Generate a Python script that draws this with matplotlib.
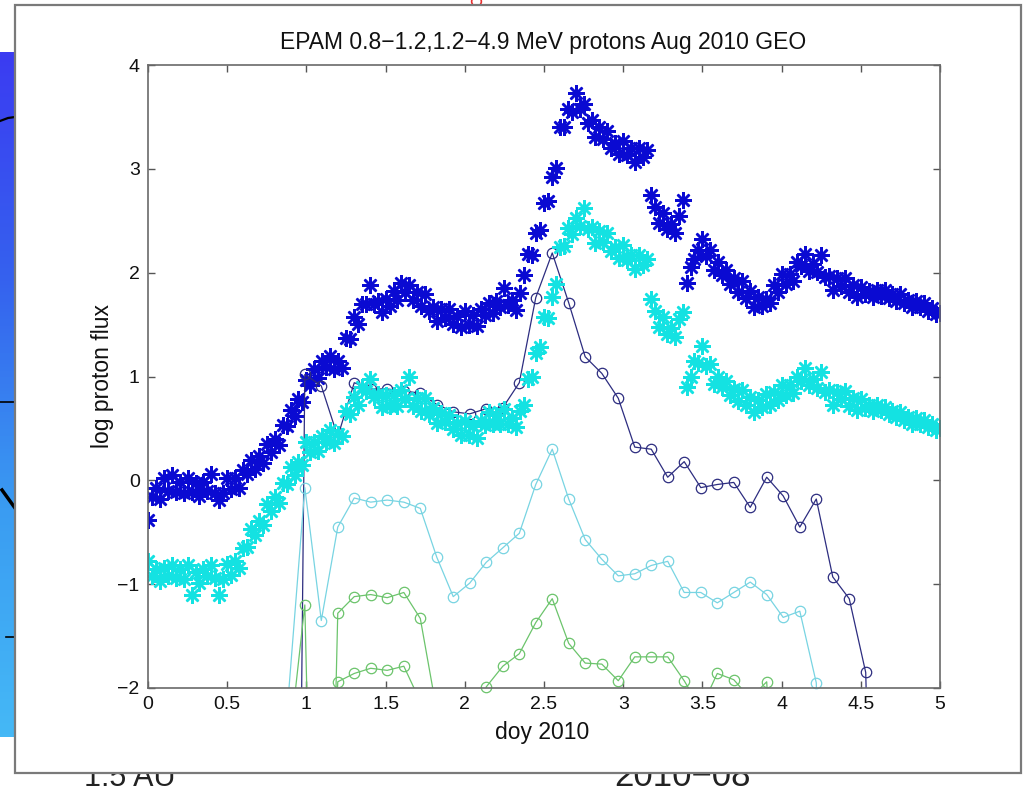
import numpy as np
import matplotlib
matplotlib.use("Agg")
import matplotlib.pyplot as plt
from matplotlib.patches import Rectangle
from matplotlib.colors import LinearSegmentedColormap

plt.rcParams["font.family"] = ["Liberation Sans", "DejaVu Sans"]

W, H = 1023, 793

# 5-min style EPAM proton fluxes (log), sampled every 0.025 doy
star_doy = np.arange(201) * 0.025
navy_star = [
    -0.38, -0.16, -0.07, -0.18, 0.02, -0.10, 0.05, -0.11, -0.02, -0.12,
    0.02, -0.11, -0.03, -0.15, -0.02, -0.10, 0.06, -0.12, -0.19, -0.12,
    0.02, -0.08, 0.02, -0.07, 0.10, 0.06, 0.20, 0.11, 0.23, 0.17,
    0.35, 0.27, 0.40, 0.34, 0.53, 0.52, 0.68, 0.62, 0.78, 0.75,
    0.97, 0.92, 1.07, 0.99, 1.15, 1.09, 1.20, 1.07, 1.15, 1.08,
    1.37, 1.36, 1.57, 1.51, 1.70, 1.70, 1.88, 1.70, 1.73, 1.62,
    1.75, 1.68, 1.82, 1.74, 1.90, 1.81, 1.88, 1.74, 1.81, 1.68,
    1.79, 1.63, 1.67, 1.53, 1.65, 1.56, 1.65, 1.51, 1.58, 1.48,
    1.63, 1.50, 1.59, 1.49, 1.65, 1.59, 1.71, 1.61, 1.73, 1.67,
    1.85, 1.69, 1.74, 1.64, 1.80, 1.98, 2.18, 2.17, 2.38, 2.41,
    2.67, 2.69, 2.92, 3.01, 3.40, 3.40, 3.58, 3.55, 3.73, 3.58,
    3.62, 3.44, 3.47, 3.31, 3.40, 3.29, 3.36, 3.20, 3.25, 3.14,
    3.27, 3.13, 3.20, 3.07, 3.20, 3.11, 3.18, 2.75, 2.63, 2.48,
    2.57, 2.42, 2.47, 2.38, 2.55, 2.70, 1.90, 2.05, 2.13, 2.22,
    2.32, 2.16, 2.22, 2.03, 2.10, 1.98, 2.03, 1.89, 1.95, 1.81,
    1.92, 1.76, 1.82, 1.67, 1.77, 1.68, 1.75, 1.71, 1.88, 1.81,
    1.99, 1.89, 1.99, 1.92, 2.10, 2.06, 2.18, 2.02, 2.08, 2.01,
    2.17, 1.96, 1.97, 1.83, 1.95, 1.87, 1.95, 1.81, 1.88, 1.77,
    1.86, 1.79, 1.82, 1.77, 1.83, 1.78, 1.83, 1.76, 1.79, 1.73,
    1.79, 1.71, 1.74, 1.67, 1.73, 1.67, 1.71, 1.63, 1.66, 1.60,
    1.61,
]
cyan_star = [
    -0.78, -0.92, -0.85, -0.97, -0.84, -0.92, -0.82, -0.94, -0.85, -0.95,
    -0.82, -1.10, -0.88, -0.99, -0.85, -0.92, -0.82, -0.94, -1.10, -0.95,
    -0.81, -0.91, -0.78, -0.84, -0.65, -0.64, -0.47, -0.53, -0.39, -0.43,
    -0.23, -0.30, -0.16, -0.22, -0.03, -0.04, 0.13, 0.05, 0.18, 0.15,
    0.37, 0.27, 0.37, 0.28, 0.43, 0.37, 0.48, 0.36, 0.45, 0.43,
    0.67, 0.64, 0.80, 0.73, 0.90, 0.86, 0.98, 0.80, 0.83, 0.71,
    0.82, 0.72, 0.82, 0.72, 0.87, 0.78, 1.00, 0.72, 0.79, 0.67,
    0.79, 0.64, 0.70, 0.55, 0.65, 0.56, 0.63, 0.49, 0.55, 0.44,
    0.57, 0.44, 0.52, 0.41, 0.57, 0.53, 0.66, 0.54, 0.63, 0.54,
    0.69, 0.54, 0.60, 0.51, 0.67, 0.73, 0.98, 1.00, 1.23, 1.28,
    1.57, 1.56, 1.77, 1.89, 2.25, 2.26, 2.43, 2.37, 2.53, 2.45,
    2.62, 2.42, 2.44, 2.29, 2.40, 2.30, 2.38, 2.21, 2.25, 2.14,
    2.27, 2.12, 2.17, 2.04, 2.17, 2.07, 2.13, 1.75, 1.63, 1.48,
    1.57, 1.41, 1.47, 1.38, 1.55, 1.62, 0.90, 1.00, 1.15, 1.13,
    1.29, 1.10, 1.12, 0.93, 1.00, 0.90, 0.96, 0.82, 0.88, 0.76,
    0.87, 0.73, 0.80, 0.66, 0.77, 0.71, 0.83, 0.73, 0.85, 0.77,
    0.92, 0.82, 0.92, 0.84, 1.00, 0.96, 1.08, 0.92, 0.98, 0.89,
    1.04, 0.85, 0.87, 0.73, 0.85, 0.78, 0.86, 0.72, 0.79, 0.68,
    0.78, 0.70, 0.73, 0.67, 0.73, 0.68, 0.71, 0.64, 0.67, 0.61,
    0.66, 0.58, 0.61, 0.54, 0.60, 0.54, 0.58, 0.51, 0.54, 0.48,
    0.50,
]

# GEO channels, 2.5 h averages
circ_doy = [0.885, 0.990, 1.094, 1.198, 1.302, 1.406, 1.510, 1.615, 1.719, 1.823,
            1.927, 2.031, 2.135, 2.240, 2.344, 2.448, 2.552, 2.656, 2.760, 2.865,
            2.969, 3.073, 3.177, 3.281, 3.385, 3.490, 3.594, 3.698, 3.802, 3.906,
            4.010, 4.115, 4.219, 4.323, 4.427, 4.531, 4.635]
nan = np.nan
geo_navy = [-15, 1.02, 0.91, 0.42, 0.94, 0.88, 0.88, 0.86, 0.84, 0.73,
            0.66, 0.64, 0.69, 0.70, 0.94, 1.76, 2.19, 1.71, 1.19, 1.03,
            0.79, 0.32, 0.30, 0.03, 0.18, -0.07, -0.04, -0.02, -0.26, 0.03,
            -0.15, -0.45, -0.18, -0.93, -1.14, -1.85, -8]
geo_cyan = [-2.1, -0.07, -1.35, -0.45, -0.17, -0.21, -0.19, -0.21, -0.27, -0.74,
            -1.12, -0.99, -0.79, -0.65, -0.51, -0.04, 0.30, -0.18, -0.57, -0.76,
            -0.92, -0.90, -0.82, -0.78, -1.08, -1.08, -1.18, -1.08, -0.98, -1.10,
            -1.32, -1.26, -1.95, -9, nan, nan, nan]
geo_green1 = [-2.65, -1.20, -8, -1.28, -1.12, -1.10, -1.13, -1.08, -1.33, -2.22,
              -6, -6, -1.99, -1.79, -1.67, -1.37, -1.14, -1.57, -1.76, -1.77,
              -1.93, -1.70, -1.70, -1.70, -1.93, -2.2, -1.86, -1.92, -2.1, -1.94,
              -5, nan, nan, nan, nan, nan, nan]
geo_green2 = [nan, nan, -6, -1.94, -1.86, -1.81, -1.83, -1.79, -2.13, -6,
              nan, nan, nan, nan, nan, nan, nan, nan, nan, nan,
              nan, nan, nan, nan, nan, nan, nan, nan, nan, nan,
              nan, nan, nan, nan, nan, nan, nan]

xticks = [0, 0.5, 1, 1.5, 2, 2.5, 3, 3.5, 4, 4.5, 5]
xticklabels = ["0", "0.5", "1", "1.5", "2", "2.5", "3", "3.5", "4", "4.5", "5"]
yticks = [-2, -1, 0, 1, 2, 3, 4]
yticklabels = ["\u22122", "\u22121", "0", "1", "2", "3", "4"]

fig = plt.figure(figsize=(W / 100, H / 100), dpi=100)
fig.patch.set_facecolor("white")

# ---- screenshot backdrop (pixel coordinates) ----
bg = fig.add_axes([0, 0, 1, 1])
bg.set_xlim(0, W)
bg.set_ylim(H, 0)
bg.axis("off")
grad = LinearSegmentedColormap.from_list("g", ["#3b3cf2", "#3562ee", "#3a9cf2", "#45b8f6"])
bg.imshow(np.linspace(0, 1, 200)[:, None], cmap=grad, aspect="auto",
          extent=[0, 16, 737, 52], zorder=0)
bg.plot([0, 8, 15], [121, 118, 117], color="black", lw=1.6, zorder=1)
bg.plot([0, 15], [402, 402], color="black", lw=1.2, zorder=1)
bg.plot([2, 15], [490, 508], color="black", lw=2.5, zorder=1)
bg.plot([6, 15], [637, 637], color="black", lw=1.2, zorder=1)
narrow = ["Liberation Sans Narrow", "Liberation Sans", "DejaVu Sans"]
bg.text(84, 793, "1.5 AU", fontsize=22, color="#222222", ha="left", va="bottom",
        family=narrow, zorder=1)
bg.text(682, 793, "2010\u221208", fontsize=25, color="#222222", ha="center", va="bottom",
        family=narrow, zorder=1)
bg.plot([476], [1], marker="o", ms=7, mfc="none", mec="#e83030", mew=1.2, zorder=1)
bg.add_patch(Rectangle((15, 5), 1006, 768, facecolor="white", edgecolor="#7a7a7a",
                       lw=1.6, zorder=2))

# ---- the MATLAB axes ----
ax = fig.add_axes([148 / W, 1 - 688 / H, 792 / W, 623 / H])
ax.set_zorder(3)
ax.set_facecolor("white")

star = (8, 2, 0)
ax.plot(star_doy, navy_star, ls="none", marker=star, ms=12, mew=1.8, color="#0a0ad2")


def geo_line(vals, color):
    v = np.array(vals, dtype=float)
    ax.plot(circ_doy, v, color=color, lw=0.9)
    m = (v >= -2.0) & (v <= 4.0)
    ax.plot(np.array(circ_doy)[m], v[m], ls="none", marker="o", ms=7.5, mfc="none",
            mec=color, mew=0.9, clip_on=False)


geo_line(geo_navy, "#2d2d80")
ax.plot(star_doy, cyan_star, ls="none", marker=star, ms=12, mew=1.8, color="#14e2e2")
geo_line(geo_cyan, "#78d4e2")
geo_line(geo_green1, "#6cc46c")
geo_line(geo_green2, "#6cc46c")

ax.set_xlim(0, 5)
ax.set_ylim(-2, 4)
ax.set_xticks(xticks)
ax.set_xticklabels(xticklabels)
ax.set_yticks(yticks)
ax.set_yticklabels(yticklabels)
ax.tick_params(direction="in", top=True, right=True, length=5, width=1.0,
               color="#555555", labelsize=14, labelcolor="#111111", pad=6)
for s in ax.spines.values():
    s.set_color("#6a6a6a")
    s.set_linewidth(1.2)

fig.text(543 / W, 1 - 43 / H, "EPAM 0.8\u22121.2,1.2\u22124.9 MeV protons Aug 2010 GEO",
         fontsize=16.5, ha="center", va="center", color="#111111")
fig.text(542 / W, 1 - 732 / H, "doy 2010", fontsize=16.5, ha="center", va="center",
         color="#111111")
fig.text(103 / W, 1 - 376 / H, "log proton flux", fontsize=16.5, rotation=90,
         ha="center", va="center", color="#111111")

fig.savefig("out.png", dpi=100, facecolor="white")
